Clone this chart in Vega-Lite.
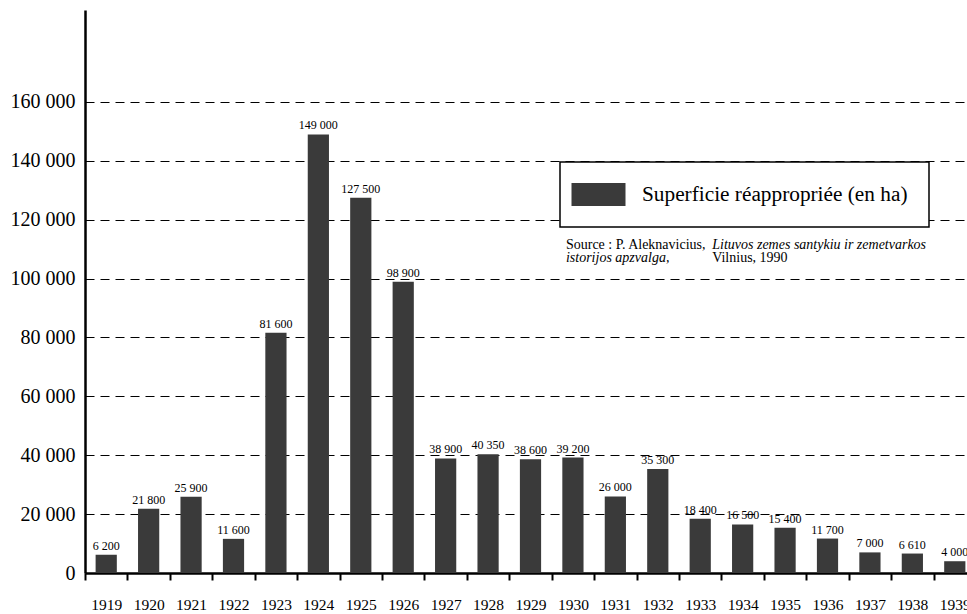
{
  "$schema": "https://vega.github.io/schema/vega-lite/v6.json",
  "autosize": "none",
  "width": 882,
  "height": 563,
  "padding": {"left": 85, "top": 10, "right": 0, "bottom": 41},
  "background": "white",
  "layer": [
    {
      "data": {"values": [
        {"year": 1919, "ha": 6200},
        {"year": 1920, "ha": 21800},
        {"year": 1921, "ha": 25900},
        {"year": 1922, "ha": 11600},
        {"year": 1923, "ha": 81600},
        {"year": 1924, "ha": 149000},
        {"year": 1925, "ha": 127500},
        {"year": 1926, "ha": 98900},
        {"year": 1927, "ha": 38900},
        {"year": 1928, "ha": 40350},
        {"year": 1929, "ha": 38600},
        {"year": 1930, "ha": 39200},
        {"year": 1931, "ha": 26000},
        {"year": 1932, "ha": 35300},
        {"year": 1933, "ha": 18400},
        {"year": 1934, "ha": 16500},
        {"year": 1935, "ha": 15400},
        {"year": 1936, "ha": 11700},
        {"year": 1937, "ha": 7000},
        {"year": 1938, "ha": 6610},
        {"year": 1939, "ha": 4000}
      ]},
      "encoding": {
        "x": {
          "field": "year", "type": "ordinal",
          "scale": {"range": [0, 891], "paddingInner": 0, "paddingOuter": 0},
          "axis": {
            "title": null, "labelAngle": 0, "tickBand": "extent",
            "domainColor": "black", "domainWidth": 2.5,
            "tickColor": "black", "tickWidth": 2, "tickSize": 7,
            "labelFont": "Liberation Serif", "labelFontSize": 15.5, "labelColor": "black",
            "labelPadding": 17, "grid": false
          }
        },
        "y": {
          "field": "ha", "type": "quantitative",
          "scale": {"domain": [0, 191250], "nice": false, "zero": true},
          "axis": {
            "title": null,
            "values": [0, 20000, 40000, 60000, 80000, 100000, 120000, 140000, 160000],
            "format": ",d",
            "domainColor": "black", "domainWidth": 2.5,
            "ticks": false, "labelPadding": 10,
            "labelFont": "Liberation Serif", "labelFontSize": 20, "labelColor": "black",
            "grid": true, "gridColor": "black", "gridWidth": 1.2, "gridDash": [9, 6], "gridOpacity": 1
          }
        }
      },
      "layer": [
        {
          "mark": {"type": "bar", "width": {"band": 0.5}},
          "encoding": {
            "color": {
              "datum": "Superficie réappropriée (en ha)",
              "type": "nominal",
              "scale": {"range": ["#3a3a3a"]},
              "legend": {
                "title": null,
                "orient": "none", "legendX": 475, "legendY": 152,
                "symbolType": "M-2.348,-1H2.348V1H-2.348Z",
                "symbolSize": 529,
                "symbolStrokeWidth": 0,
                "symbolOpacity": 1,
                "symbolOffset": 6,
                "labelFont": "Liberation Serif", "labelFontSize": 21.3, "labelColor": "black",
                "labelOffset": 32, "labelLimit": 400,
                "labelExpr": "datum.label + '\u00a0\u00a0\u00a0'",
                "padding": 21,
                "strokeColor": "black", "fillColor": "white", "cornerRadius": 0
              }
            }
          }
        },
        {
          "mark": {"type": "text", "baseline": "alphabetic", "dy": -5, "font": "Liberation Serif", "fontSize": 12, "color": "black"},
          "encoding": {"text": {"field": "ha", "type": "quantitative", "format": ",d"}}
        }
      ]
    },
    {
      "data": {"values": [{"t": "Source : P. Aleknavicius,"}]},
      "mark": {"type": "text", "align": "left", "baseline": "alphabetic", "dx": -7, "font": "Liberation Serif", "fontSize": 14, "color": "black"},
      "encoding": {"x": {"datum": 1930, "type": "ordinal"}, "y": {"datum": 110000, "type": "quantitative"}, "text": {"field": "t", "type": "nominal"}}
    },
    {
      "data": {"values": [{"t": "Lituvos zemes santykiu ir zemetvarkos"}]},
      "mark": {"type": "text", "align": "left", "baseline": "alphabetic", "dx": 12, "font": "Liberation Serif", "fontSize": 14, "fontStyle": "italic", "color": "black"},
      "encoding": {"x": {"datum": 1933, "type": "ordinal"}, "y": {"datum": 110000, "type": "quantitative"}, "text": {"field": "t", "type": "nominal"}}
    },
    {
      "data": {"values": [{"t": "istorijos apzvalga,"}]},
      "mark": {"type": "text", "align": "left", "baseline": "alphabetic", "dx": -7, "font": "Liberation Serif", "fontSize": 14, "fontStyle": "italic", "color": "black"},
      "encoding": {"x": {"datum": 1930, "type": "ordinal"}, "y": {"datum": 105500, "type": "quantitative"}, "text": {"field": "t", "type": "nominal"}}
    },
    {
      "data": {"values": [{"t": "Vilnius, 1990"}]},
      "mark": {"type": "text", "align": "left", "baseline": "alphabetic", "dx": 12, "font": "Liberation Serif", "fontSize": 14, "color": "black"},
      "encoding": {"x": {"datum": 1933, "type": "ordinal"}, "y": {"datum": 105500, "type": "quantitative"}, "text": {"field": "t", "type": "nominal"}}
    }
  ],
  "config": {
    "font": "Liberation Serif",
    "locale": {"number": {"decimal": ",", "thousands": " ", "grouping": [3], "currency": ["", " €"]}},
    "view": {"stroke": null},
    "legend": {"strokeWidth": 1.5}
  }
}
